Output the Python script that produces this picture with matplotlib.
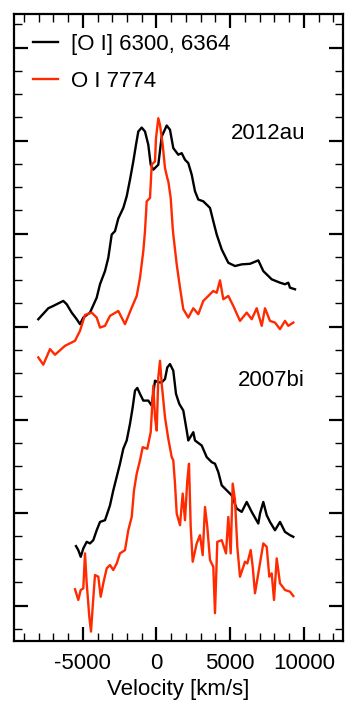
import matplotlib
matplotlib.use('Agg')
import matplotlib.pyplot as plt
from matplotlib.ticker import MultipleLocator
import numpy as np

plt.rcParams['font.family'] = ['Liberation Sans', 'DejaVu Sans']
plt.rcParams['axes.unicode_minus'] = False

# SN 2012au, [O I] 6300,6364 (offset spectrum)
v_oi_12au = [-8014, -7336, -6997, -6319, -6088, -5749, -5410, -5187, -4963, -4509,
             -4054, -3831, -3492, -3268, -3037, -2814, -2590, -2251, -2020, -1797,
             -1573, -1390, -1234, -1003, -780, -556, -393, -217, 122, 353,
             692, 915, 1139, 1478, 1709, 1932, 2156, 2387, 2610, 2834,
             3173, 3512, 3627, 3851, 4082, 4421, 4868, 5322, 5777, 6339,
             6902, 7241, 7811, 8373, 8712, 8936, 9051, 9390]
f_oi_12au = [3.080, 3.198, 3.223, 3.277, 3.241, 3.151, 3.080, 3.027, 3.098, 3.151,
             3.312, 3.456, 3.598, 3.741, 3.991, 4.027, 4.163, 4.277, 4.402, 4.581,
             4.777, 4.956, 5.099, 5.141, 5.099, 4.956, 4.742, 4.688, 4.742, 5.045,
             5.163, 5.117, 4.920, 4.849, 4.866, 4.795, 4.759, 4.635, 4.456, 4.367,
             4.348, 4.295, 4.277, 4.134, 3.991, 3.831, 3.687, 3.652, 3.670, 3.676,
             3.713, 3.598, 3.509, 3.473, 3.456, 3.473, 3.419, 3.402]

# SN 2012au, O I 7774
v_o7774_12au = [-8014, -7675, -7221, -6882, -6204, -5526, -5187, -4848, -4393, -4054,
                -3831, -3492, -3153, -2590, -2136, -1681, -1342, -1119, -895, -780,
                -664, -441, -325, -102, -34, 122, 237, 420, 576, 732,
                800, 963, 1098, 1139, 1370, 1593, 1817, 2156, 2495, 2834,
                3173, 3512, 3851, 4082, 4305, 4529, 4868, 5207, 5661, 6116,
                6455, 6794, 7133, 7356, 7695, 8034, 8373, 8712, 8936, 9275]
f_o7774_12au = [2.669, 2.591, 2.759, 2.698, 2.794, 2.848, 2.955, 3.126, 3.151, 3.098,
                2.990, 3.009, 3.116, 3.169, 3.027, 3.205, 3.330, 3.526, 3.812, 4.027,
                4.348, 4.384, 4.742, 4.777, 5.027, 5.241, 5.170, 4.956, 4.705, 4.598,
                4.563, 4.384, 4.062, 3.991, 3.670, 3.419, 3.188, 3.098, 3.198, 3.134,
                3.277, 3.330, 3.384, 3.365, 3.498, 3.295, 3.330, 3.223, 3.062, 3.151,
                3.080, 3.198, 3.009, 3.198, 3.062, 3.044, 2.973, 3.062, 3.009, 3.044]

# SN 2007bi, [O I] 6300,6364
v_oi_07bi = [-5458, -5302, -5139, -4963, -4732, -4509, -4285, -4054, -3831, -3492,
             -3376, -3153, -2929, -2814, -2475, -2251, -2020, -1797, -1614, -1458,
             -1302, -1119, -895, -556, -325, -102, 122, 353, 576, 732,
             915, 1139, 1322, 1546, 1817, 2048, 2156, 2495, 2610, 3065,
             3404, 3743, 3966, 4190, 4421, 4760, 5099, 5438, 5777, 6116,
             6455, 6902, 7017, 7241, 7472, 7695, 8034, 8373, 8712, 9051, 9275]
f_oi_07bi = [0.640, 0.597, 0.525, 0.615, 0.686, 0.669, 0.704, 0.811, 0.900, 0.919,
             0.972, 1.079, 1.240, 1.312, 1.526, 1.687, 1.776, 1.955, 2.133, 2.312,
             2.341, 2.277, 2.205, 2.205, 2.151, 2.419, 2.401, 2.401, 2.437, 2.562,
             2.598, 2.526, 2.277, 2.169, 2.098, 1.883, 1.776, 1.865, 1.776, 1.722,
             1.597, 1.543, 1.526, 1.436, 1.294, 1.240, 1.186, 1.044, 1.008, 1.115,
             1.008, 0.883, 0.990, 1.115, 0.972, 0.900, 0.811, 0.900, 0.793, 0.758, 0.740]

# SN 2007bi, O I 7774
v_o7774_07bi = [-5526, -5302, -5139, -4963, -4848, -4732, -4556, -4441, -4326, -4170,
                -3946, -3783, -3607, -3376, -3153, -2929, -2698, -2475, -2136, -1912,
                -1681, -1526, -1342, -1119, -936, -624, -393, -217, -102, 14,
                122, 237, 353, 576, 800, 1031, 1139, 1254, 1370, 1593,
                1776, 1932, 2088, 2204, 2319, 2454, 2726, 2949, 3132, 3288,
                3444, 3627, 3851, 3966, 4122, 4421, 4712, 4868, 5031, 5166,
                5322, 5478, 5661, 6000, 6156, 6387, 6522, 6678, 6902, 7241,
                7472, 7648, 7811, 7967, 8150, 8373, 8712, 9051, 9275]
f_o7774_07bi = [0.176, 0.061, 0.168, 0.186, 0.562, 0.240, -0.118, -0.279, -0.011, 0.329,
                0.311, 0.096, 0.240, 0.401, 0.436, 0.383, 0.454, 0.562, 0.597, 0.811,
                0.954, 1.240, 1.419, 1.562, 1.704, 1.687, 1.865, 2.365, 2.026, 1.883,
                2.454, 2.633, 2.384, 2.026, 1.794, 1.597, 1.562, 1.312, 0.990, 0.865,
                1.205, 0.919, 1.347, 1.526, 0.847, 0.472, 0.669, 0.758, 0.543, 1.061,
                0.847, 0.490, 0.418, -0.081, 0.686, 0.704, 0.562, 0.954, 0.562, 1.312,
                1.133, 0.632, 0.311, 0.472, 0.454, 0.597, 0.418, 0.133, 0.347, 0.669,
                0.632, 0.311, 0.347, 0.061, 0.508, 0.240, 0.168, 0.150, 0.104]

red = '#ff2a00'

fig = plt.figure(figsize=(3.56, 7.11), dpi=100)
ax = fig.add_axes([0.0393, 0.0985, 0.9242, 0.8815])

kw = dict(lw=1.7)
ax.plot(v_oi_12au, f_oi_12au, color='black', label='[O I] 6300, 6364', **kw)
ax.plot(v_o7774_12au, f_o7774_12au, color=red, label='O I 7774', **kw)
ax.plot(v_oi_07bi, f_oi_07bi, color='black', **kw)
ax.plot(v_o7774_07bi, f_o7774_07bi, color=red, **kw)

ax.text(10070, 5.077, '2012au', ha='right', va='center', fontsize=16)
ax.text(10070, 2.419, '2007bi', ha='right', va='center', fontsize=16)

ax.set_xlim(-9662, 12645)
ax.set_ylim(-0.38, 6.36)
ax.xaxis.set_major_locator(MultipleLocator(5000))
ax.xaxis.set_minor_locator(MultipleLocator(1000))
ax.yaxis.set_major_locator(MultipleLocator(1))
ax.yaxis.set_minor_locator(MultipleLocator(0.25))
ax.tick_params(which='both', direction='in', top=True, right=True, labelleft=False)
ax.tick_params(which='major', length=10, width=1.6, labelsize=16, pad=9)
ax.tick_params(which='minor', length=5.5, width=1.0)
for s in ax.spines.values():
    s.set_linewidth(1.6)

ax.set_xlabel('Velocity [km/s]', fontsize=16, labelpad=3)

ax.legend(loc='upper left', bbox_to_anchor=(0.058, 0.968), frameon=False,
          fontsize=16, borderpad=0, borderaxespad=0, handlelength=1.1,
          handletextpad=0.6, labelspacing=0.72)

fig.savefig('out.png', dpi=100)
